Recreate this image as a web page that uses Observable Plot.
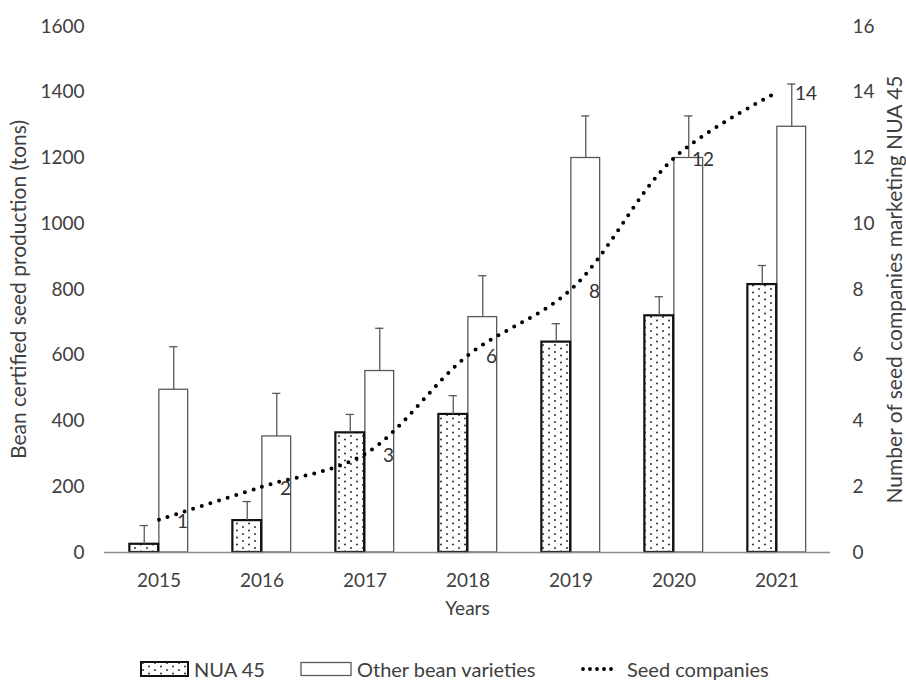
<!DOCTYPE html>
<html>
<head>
<meta charset="utf-8">
<script src="https://cdn.jsdelivr.net/npm/d3@7"></script>
<script src="https://cdn.jsdelivr.net/npm/@observablehq/plot@0.6"></script>
<style>
  html, body { margin: 0; padding: 0; background: #fff; }
  #wrap { position: relative; width: 906px; height: 682px; font-family: Lato, "Open Sans", sans-serif; color: #404040; }
  #chart svg { display: block; }
  #legend { position: relative; width: 906px; height: 42px; }
  .item { position: absolute; top: 19px; display: flex; align-items: center; height: 20px; font-size: 20px; white-space: nowrap; }
  .item svg { display: block; margin-right: 5px; }
</style>
</head>
<body>
<div id="wrap">
  <div id="chart"></div>
  <div id="legend">
    <div class="item" style="left:140px"><svg width="49" height="16"><rect x="1" y="1" width="47" height="14" fill="url(#dots)" stroke="#111" stroke-width="2"/></svg>NUA 45</div>
    <div class="item" style="left:300px"><svg width="52" height="16"><rect x="1" y="1.5" width="50" height="13" fill="#fff" stroke="#595959" stroke-width="1.3"/></svg>Other bean varieties</div>
    <div class="item" style="left:580px"><svg width="42" height="16"><line x1="3" y1="8" x2="38" y2="8" stroke="#000" stroke-width="3.8" stroke-linecap="round" stroke-dasharray="0 7"/></svg>Seed companies</div>
  </div>
</div>
<script>
// ---- data ----
const years = ["2015", "2016", "2017", "2018", "2019", "2020", "2021"];
const nua45 = [25, 97, 364, 420, 640, 720, 815];
const nua45Err = [57, 58, 56, 57, 56, 58, 58];
const otherVarieties = [495, 353, 552, 716, 1200, 1200, 1295];
const otherErr = [131, 131, 130, 126, 128, 128, 130];
const seedCompanies = [1, 2, 3, 6, 8, 12, 14];
const leftTicks = [0, 200, 400, 600, 800, 1000, 1200, 1400, 1600];
const rightTicks = [0, 2, 4, 6, 8, 10, 12, 14, 16];
const leftTitle = "Bean certified seed production (tons)";
const rightTitle = "Number of seed companies marketing NUA 45";
const xTitle = "Years";

const rows = years.map((y, i) => ({
  year: y, nua: nua45[i], nuaErr: nua45Err[i],
  other: otherVarieties[i], otherErr: otherErr[i], seed: seedCompanies[i]
}));

// ---- layout ----
const W = 906, H = 640;
const mL = 104, mR = 76, mT = 26, mB = 88;
const bw = (W - mL - mR) / years.length;
const half = bw / 2;
const barW = 29.5;
const capHalf = 4.5;
const ratio = 1600 / 16; // right axis scale factor

const chart = Plot.plot({
  width: W, height: H,
  marginLeft: mL, marginRight: mR, marginTop: mT, marginBottom: mB,
  style: { fontFamily: "Lato, 'Open Sans', sans-serif", fontSize: "19px", color: "#404040", background: "white" },
  x: { type: "band", domain: years, padding: 0 },
  y: { domain: [0, 1600] },
  marks: [
    Plot.barY(rows, { x: "year", y: "other", fill: "white", stroke: "#595959", strokeWidth: 1.3,
      insetLeft: half, insetRight: half - barW }),
    Plot.barY(rows, { x: "year", y: "nua", fill: "url(#dots)", stroke: "#111", strokeWidth: 2.2,
      insetLeft: half - barW, insetRight: half }),
    Plot.ruleY([0], { stroke: "#8c8c8c", strokeWidth: 1.3 }),
    // error bars
    Plot.ruleX(rows, { x: "year", y1: "nua", y2: d => d.nua + d.nuaErr, dx: -barW / 2, stroke: "#595959", strokeWidth: 1.3 }),
    Plot.tickY(rows, { x: "year", y: d => d.nua + d.nuaErr, stroke: "#595959", strokeWidth: 1.3,
      insetLeft: half - barW / 2 - capHalf, insetRight: half + barW / 2 - capHalf }),
    Plot.ruleX(rows, { x: "year", y1: "other", y2: d => d.other + d.otherErr, dx: barW / 2, stroke: "#595959", strokeWidth: 1.3 }),
    Plot.tickY(rows, { x: "year", y: d => d.other + d.otherErr, stroke: "#595959", strokeWidth: 1.3,
      insetLeft: half + barW / 2 - capHalf, insetRight: half - barW / 2 - capHalf }),
    // seed companies line (right axis)
    Plot.line(rows, { x: "year", y: d => d.seed * ratio, stroke: "#000", strokeWidth: 4,
      strokeDasharray: "0 9", strokeLinecap: "round", curve: "catmull-rom" }),
    Plot.text(rows, { x: "year", y: d => d.seed * ratio, text: d => String(d.seed),
      textAnchor: "start", dx: 18, dy: 2, fontSize: 19, fill: "#333" }),
    // axes
    Plot.axisX({ tickSize: 0, tickPadding: 21, label: null, fontSize: 19 }),
    Plot.axisY({ ticks: leftTicks, tickFormat: d => String(d), tickSize: 0, tickPadding: 20, label: null, fontSize: 19 }),
    Plot.axisY({ anchor: "right", ticks: rightTicks.map(t => t * ratio), tickFormat: d => String(d / ratio),
      tickSize: 0, tickPadding: 22, label: null, fontSize: 19 }),
    // axis titles
    Plot.text([leftTitle], { text: d => d, frameAnchor: "left", textAnchor: "middle", lineAnchor: "middle",
      rotate: -90, dx: -85, fontSize: 21, fill: "#404040" }),
    Plot.text([rightTitle], { text: d => d, frameAnchor: "right", textAnchor: "middle", lineAnchor: "middle",
      rotate: -90, dx: 65, fontSize: 21, fill: "#404040" }),
    Plot.text([xTitle], { text: d => d, frameAnchor: "bottom", textAnchor: "middle", dy: 62, fontSize: 19, fill: "#404040" })
  ]
});

chart.insertAdjacentHTML("afterbegin",
  '<defs><pattern id="dots" width="12" height="7" patternUnits="userSpaceOnUse">' +
  '<rect width="12" height="7" fill="white"/>' +
  '<circle cx="3" cy="2" r="0.95" fill="#222"/>' +
  '<circle cx="9" cy="5.5" r="0.95" fill="#222"/>' +
  '</pattern></defs>');
document.getElementById("chart").appendChild(chart);
</script>
</body>
</html>
